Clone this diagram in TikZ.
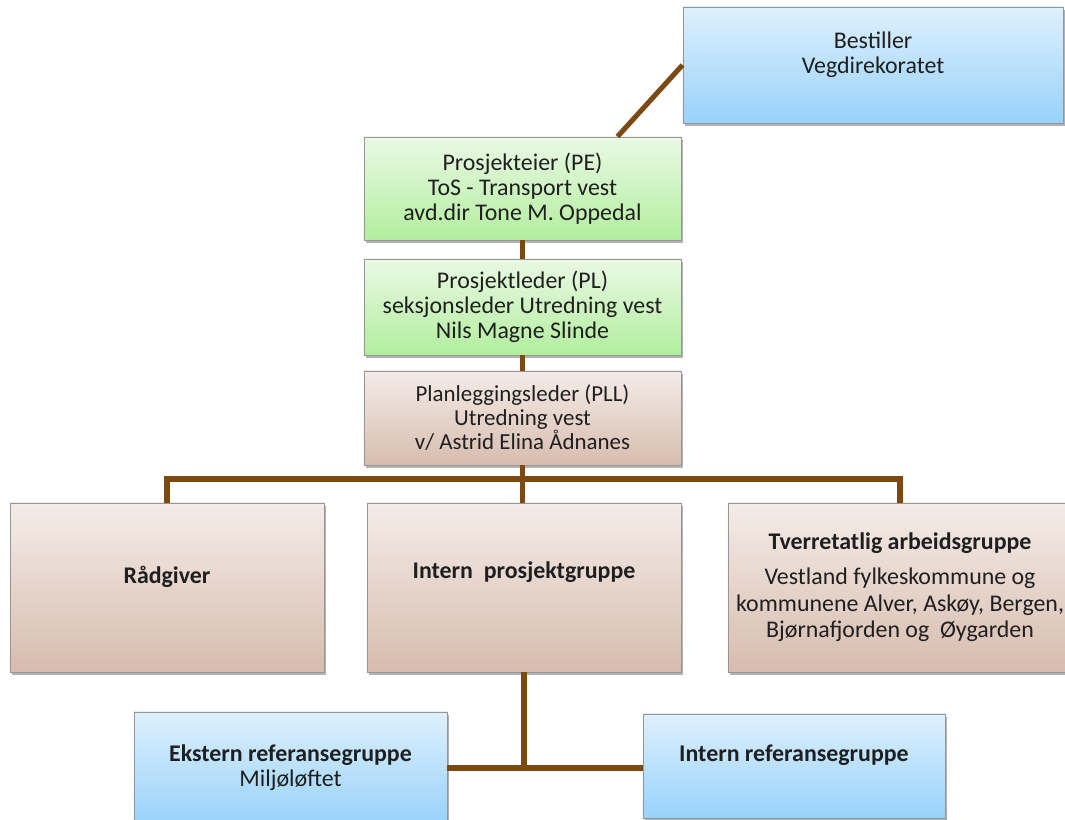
\documentclass[tikz,border=0pt]{standalone}
\usepackage{fontspec}
\setmainfont{Carlito}
\usepackage{tikz}
\usetikzlibrary{shadows, calc}

\definecolor{blueTop}{RGB}{222,240,253}
\definecolor{blueBot}{RGB}{152,210,250}
\definecolor{greenTop}{RGB}{234,249,229}
\definecolor{greenBot}{RGB}{178,238,158}
\definecolor{roseTop}{RGB}{244,236,232}
\definecolor{roseBot}{RGB}{215,188,174}
\definecolor{boxline}{RGB}{150,150,150}
\definecolor{linebrown}{RGB}{122,74,18}

\begin{document}
\begin{tikzpicture}[x=0.025cm, y=-0.025cm,
    box/.style={draw=boxline, line width=0.6pt, align=center, inner sep=0pt,
      text=black!88, font=\fontsize{17}{17.8}\selectfont,
      drop shadow={shadow xshift=1.2pt, shadow yshift=-1.8pt, opacity=0.3, fill=black}},
    bluebox/.style={box, top color=blueTop, bottom color=blueBot},
    greenbox/.style={box, top color=greenTop, bottom color=greenBot},
    rosebox/.style={box, top color=roseTop, bottom color=roseBot},
    conn/.style={draw=linebrown, line width=3.6pt}]
  \useasboundingbox (0,0) rectangle (1065,820);

  % Nodes
  \node[bluebox, minimum width=9.5cm, minimum height=2.9cm] (best) at (873,65)
    {Bestiller\\Vegdirekoratet\\\mbox{}};
  \node[greenbox, minimum width=7.925cm, minimum height=2.575cm] (pe) at (522.5,188.5)
    {Prosjekteier (PE)\\ToS - Transport vest\\avd.dir Tone M. Oppedal};
  \node[greenbox, minimum width=7.925cm, minimum height=2.4cm] (pl) at (522.5,307)
    {Prosjektleder (PL)\\seksjonsleder Utredning vest\\Nils Magne Slinde};
  \node[rosebox, minimum width=7.925cm, minimum height=2.35cm,
    font=\fontsize{16.3}{17}\selectfont] (pll) at (522.5,418)
    {Planleggingsleder (PLL)\\Utredning vest\\v/ Astrid Elina Ådnanes};

  \node[rosebox, minimum width=7.85cm, minimum height=4.225cm] (rad) at (167,587.5)
    {\textbf{Rådgiver}\\\mbox{}};
  \node[rosebox, minimum width=7.85cm, minimum height=4.225cm] (ipg) at (524,587.5)
    {\textbf{Intern~ prosjektgruppe}\\[7pt]\mbox{}};
  \node[rosebox, minimum width=8.6cm, minimum height=4.225cm,
    font=\fontsize{17}{18.8}\selectfont] (tva) at (900,587.5)
    {\textbf{Tverretatlig arbeidsgruppe}\\[6pt]Vestland fylkeskommune og\\
     kommunene Alver, Askøy, Bergen,\\Bjørnafjorden og~ Øygarden};

  \node[bluebox, minimum width=7.825cm, minimum height=2.8cm] (ekst) at (290.5,768)
    {\textbf{Ekstern referansegruppe}\\Miljøløftet};
  \node[bluebox, minimum width=7.55cm, minimum height=2.6cm] (irg) at (794,766)
    {\textbf{Intern referansegruppe}\\\mbox{}};

  \coordinate (bus) at (522.5,479);

  % Lines
  \draw[conn] (best.west) -- ($(pe.north)+(95,0)$);
  \foreach \a/\b in {pe/pl,pl/pll}
  \draw[conn] (\a) -- (\b);
  \draw[conn] (pll.south) -- (pll.south |- ipg.north);
  \draw[conn] (rad.north) |- (bus) -| (tva.north);
  \draw[conn] (ipg.south) -- (ipg.south |- ekst.east);
  \draw[conn] (ekst.east) -- (ekst.east -| irg.west);
\end{tikzpicture}
\end{document}
